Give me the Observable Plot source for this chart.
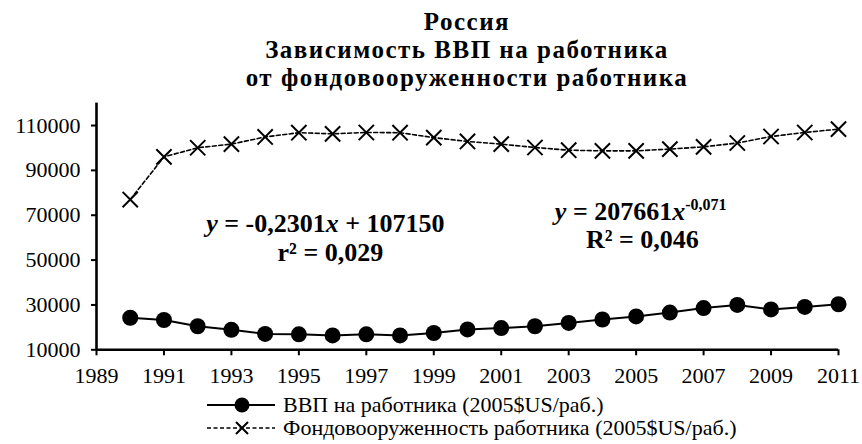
<!DOCTYPE html>
<html>
<head>
<meta charset="utf-8">
<script src="https://cdn.jsdelivr.net/npm/d3@7"></script>
<script src="https://cdn.jsdelivr.net/npm/@observablehq/plot@0.6"></script>
<style>
  body { margin: 0; background: #fff; }
  #wrap { position: relative; width: 862px; height: 444px; overflow: hidden; background: #fff;
          font-family: "Liberation Serif", "DejaVu Serif", serif; color: #000; }
  #chart { position: absolute; left: 0; top: 0; }
  #title { position: absolute; left: 96px; width: 742px; top: 7.5px; text-align: center;
           font-weight: bold; font-size: 25px; letter-spacing: 1.5px; }
  #title div { height: 28px; line-height: 28px; white-space: nowrap; }
  .note { position: absolute; font-weight: bold; font-size: 26px; line-height: 26px;
          white-space: nowrap; transform: translate(-50%, -50%); }
  .note sup { font-size: 16px; position: relative; top: -10px; vertical-align: baseline; line-height: 0; }
  #legend { position: absolute; left: 207px; top: 393px; font-size: 22px; }
  .lrow { position: absolute; left: 0; height: 23px; white-space: nowrap; }
  .lrow svg { position: absolute; left: 0; top: 0; }
  .lrow span { position: absolute; left: 76px; top: 0; line-height: 23px; }
</style>
</head>
<body>
<div id="wrap">
  <div id="chart"></div>
  <div id="title"></div>
  <div id="notes"></div>
  <div id="legend"></div>
</div>
<script>
// ---- data ----
const titleLines = ["Россия", "Зависимость ВВП на работника", "от фондовооруженности работника"];
const years = [1990, 1991, 1992, 1993, 1994, 1995, 1996, 1997, 1998, 1999, 2000,
               2001, 2002, 2003, 2004, 2005, 2006, 2007, 2008, 2009, 2010, 2011];
const gdpPerWorker = [24300, 23300, 20500, 18900, 17100, 16900, 16400, 16900, 16400, 17500, 19100,
                      19700, 20500, 22000, 23500, 24900, 26600, 28600, 30000, 28000, 29100, 30300];
const capitalPerWorker = [77000, 96000, 100100, 101700, 104900, 106800, 106300, 106900, 106800, 104600, 102900,
                          101700, 100200, 99000, 98700, 98700, 99500, 100500, 102200, 105100, 106900, 108400];
const xTicks = [1989, 1991, 1993, 1995, 1997, 1999, 2001, 2003, 2005, 2007, 2009, 2011];
const yTicks = [10000, 30000, 50000, 70000, 90000, 110000];
const seriesNames = ["ВВП на работника (2005$US/раб.)", "Фондовооруженность работника (2005$US/раб.)"];
const noteLines = [
  ["<i>y</i> = -0,2301<i>x</i> + 107150", "r² = 0,029"],
  ["<i>y</i> = 207661<i>x</i><sup>-0,071</sup>", "R² = 0,046"]
];
// annotation anchors in data units (year, value) for each line
const noteAnchors = [
  [[1995.8, 65900], [1995.95, 52900]],
  [[2005.15, 71200], [2005.2, 58700]]
];

const rows = years.map((year, i) => ({year, gdp: gdpPerWorker[i], capital: capitalPerWorker[i]}));

const chart = Plot.plot({
  width: 862,
  height: 444,
  marginLeft: 96,
  marginRight: 24,
  marginTop: 102.6,
  marginBottom: 94.7,
  style: {fontFamily: "'Liberation Serif', 'DejaVu Serif', serif", fontSize: "22px", color: "#000", background: "transparent", overflow: "visible"},
  x: {domain: [1989, 2011]},
  y: {domain: [10000, 120000]},
  marks: [
    Plot.axisY(yTicks, {tickSize: 5, tickPadding: 11, tickFormat: d => String(d), strokeWidth: 2, label: null}),
    Plot.axisX(xTicks, {tickSize: 6, tickPadding: 12, tickFormat: d => String(d), strokeWidth: 2, label: null}),
    Plot.ruleX([1989], {strokeWidth: 2.6}),
    Plot.ruleY([10000], {strokeWidth: 2.6}),
    Plot.line(rows, {x: "year", y: "capital", stroke: "black", strokeWidth: 1.6, strokeDasharray: "4,2.5"}),
    Plot.dot(rows, {x: "year", y: "capital", symbol: "times", r: 7, stroke: "black", strokeWidth: 2}),
    Plot.line(rows, {x: "year", y: "gdp", stroke: "black", strokeWidth: 2}),
    Plot.dot(rows, {x: "year", y: "gdp", r: 8, fill: "black", stroke: "none"})
  ]
});
document.getElementById("chart").appendChild(chart);

const title = document.getElementById("title");
titleLines.forEach(s => {
  const d = document.createElement("div");
  d.textContent = s;
  title.appendChild(d);
});

const sx = chart.scale("x"), sy = chart.scale("y");
const notes = document.getElementById("notes");
noteLines.forEach((lines, i) => {
  lines.forEach((html, j) => {
    const [vx, vy] = noteAnchors[i][j];
    const d = document.createElement("div");
    d.className = "note";
    d.style.left = sx.apply(vx) + "px";
    d.style.top = sy.apply(vy) + "px";
    d.innerHTML = html;
    notes.appendChild(d);
  });
});

// legend
const legend = document.getElementById("legend");
const ns = "http://www.w3.org/2000/svg";
seriesNames.forEach((name, i) => {
  const row = document.createElement("div");
  row.className = "lrow";
  row.style.top = (i * 23) + "px";
  const svg = document.createElementNS(ns, "svg");
  svg.setAttribute("width", 70); svg.setAttribute("height", 23);
  const line = document.createElementNS(ns, "line");
  line.setAttribute("x1", 0); line.setAttribute("x2", 68);
  line.setAttribute("y1", 12); line.setAttribute("y2", 12);
  line.setAttribute("stroke", "black");
  line.setAttribute("stroke-width", i === 0 ? 2 : 1.6);
  if (i === 1) line.setAttribute("stroke-dasharray", "4,2.5");
  svg.appendChild(line);
  if (i === 0) {
    const c = document.createElementNS(ns, "circle");
    c.setAttribute("cx", 35); c.setAttribute("cy", 12); c.setAttribute("r", 7.5);
    c.setAttribute("fill", "black");
    svg.appendChild(c);
  } else {
    const p = document.createElementNS(ns, "path");
    p.setAttribute("d", "M29,6L41,18M29,18L41,6");
    p.setAttribute("stroke", "black"); p.setAttribute("stroke-width", 2);
    p.setAttribute("fill", "white");
    svg.appendChild(p);
  }
  row.appendChild(svg);
  const t = document.createElement("span");
  t.textContent = name;
  row.appendChild(t);
  legend.appendChild(row);
});
</script>
</body>
</html>
